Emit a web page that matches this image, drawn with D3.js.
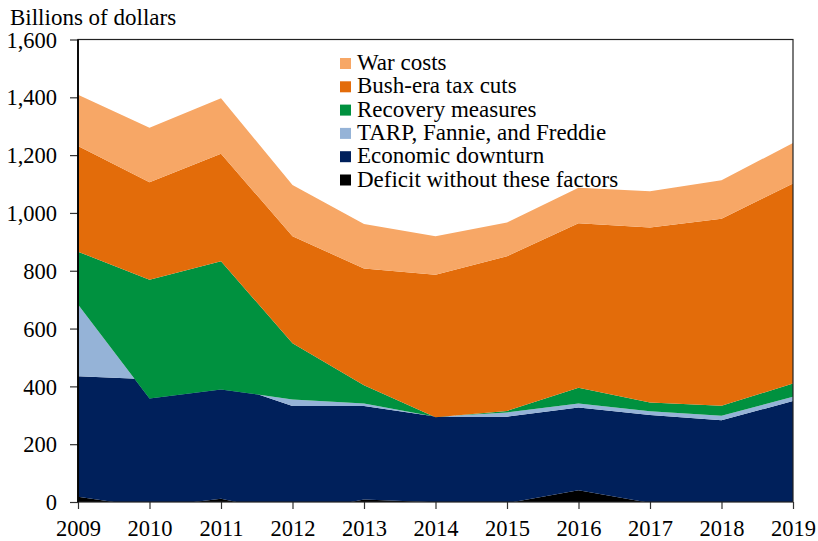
<!DOCTYPE html>
<html>
<head>
<meta charset="utf-8">
<script src="https://cdn.jsdelivr.net/npm/d3@7"></script>
<style>
  body { margin: 0; background: #fff; }
</style>
</head>
<body>
<div id="chart"></div>
<script>
// deficit components, billions of dollars
const years = [2009, 2010, 2011, 2012, 2013, 2014, 2015, 2016, 2017, 2018, 2019]
const baseDeficit = [18, -18, 11, -40, 9, -1, -4, 41, -3, -2, -2]
const downturn = [417, 443, 405, 372, 323, 297, 299, 286, 304, 285, 351]
const tarp = [248, -67, -27, 23, 9, -1, 15, 14, 13, 15, 15]
const recovery = [183, 411, 444, 194, 63, -2, 5, 54, 30, 35, 46]
const taxCuts = [366, 337, 372, 370, 404, 493, 535, 569, 606, 647, 692]
const warCosts = [177, 189, 192, 178, 154, 133, 117, 123, 125, 133, 140]
const yTicks = [0, 200, 400, 600, 800, 1000, 1200, 1400, 1600]

const seriesKeys = ["base", "downturn", "tarp", "recovery", "tax", "war"]
const seriesColors = {
    base: "#000000",
    downturn: "#00205b",
    tarp: "#95b3d7",
    recovery: "#00913f",
    tax: "#e36c0a",
    war: "#f7a766"
}
// legend goes top to bottom
const legendItems = [
    ["war", "War costs"],
    ["tax", "Bush-era tax cuts"],
    ["recovery", "Recovery measures"],
    ["tarp", "TARP, Fannie, and Freddie"],
    ["downturn", "Economic downturn"],
    ["base", "Deficit without these factors"]
]

const FONT = "'Liberation Serif'"

function renderChart(frame_id) {
    let width = 818
    let height = 541
    let left = 78, right = 793, top = 39.5, bottom = 502

    let rows = years.map((yr, i) => ({
        year: yr,
        base: baseDeficit[i],
        downturn: downturn[i],
        tarp: tarp[i],
        recovery: recovery[i],
        tax: taxCuts[i],
        war: warCosts[i]
    }))

    var svg = d3.select("#" + frame_id)
        .append("svg")
        .attr("width", width)
        .attr("height", height)

    var x = d3.scaleLinear().domain([2009, 2019]).range([left, right])
    var y = d3.scaleLinear().domain([0, 1600]).range([bottom, top])

    // plain cumulative stacking, negatives included (like the spreadsheet does)
    var stacked = d3.stack().keys(seriesKeys).offset(d3.stackOffsetNone)(rows)

    svg.append("clipPath").attr("id", "plot-clip")
        .append("rect")
        .attr("x", left).attr("y", top)
        .attr("width", right - left).attr("height", bottom - top)

    var area = d3.area()
        .x(d => x(d.data.year))
        .y0(d => y(d[0]))
        .y1(d => y(d[1]))

    svg.append("g")
        .attr("clip-path", "url(#plot-clip)")
        .selectAll("path")
        .data(stacked)
        .enter()
        .append("path")
        .attr("d", area)
        .attr("fill", d => seriesColors[d.key])

    // y axis
    var yAxis = svg.append("g")
        .attr("transform", "translate(" + left + ",0)")
        .call(d3.axisLeft(y).tickValues(yTicks).tickSize(8).tickPadding(13)
            .tickFormat(d3.format(",")))
    yAxis.select(".domain").remove()
    yAxis.selectAll(".tick line").attr("stroke", "#333").attr("stroke-width", 1.2)
    yAxis.selectAll("text")
        .style("font-family", FONT)
        .style("font-size", "22.5px")
        .attr("fill", "#000")
        .attr("dy", "0.34em")

    // x axis
    var xAxis = svg.append("g")
        .attr("transform", "translate(0," + bottom + ")")
        .call(d3.axisBottom(x).tickValues(years).tickSize(7).tickPadding(11)
            .tickFormat(d3.format("d")))
    xAxis.select(".domain").remove()
    xAxis.selectAll(".tick line").attr("stroke", "#333").attr("stroke-width", 1.2)
    xAxis.selectAll("text")
        .style("font-family", FONT)
        .style("font-size", "22.5px")
        .attr("fill", "#000")

    // frame around the plot
    svg.append("rect")
        .attr("x", left).attr("y", top)
        .attr("width", right - left).attr("height", bottom - top)
        .attr("fill", "none")
        .attr("stroke", "#222")
        .attr("stroke-width", 1.2)
    svg.append("line")
        .attr("x1", left).attr("x2", left)
        .attr("y1", top).attr("y2", bottom)
        .attr("stroke", "#000").attr("stroke-width", 1.8)

    svg.append("text")
        .attr("x", 10).attr("y", 25)
        .style("font-family", FONT)
        .style("font-size", "23px")
        .text("Billions of dollars")

    // legend
    var legend = svg.append("g").attr("transform", "translate(340,70)")
    var item = legend.selectAll("g")
        .data(legendItems)
        .enter()
        .append("g")
        .attr("transform", (d, i) => "translate(0," + i * 23.3 + ")")
    item.append("rect")
        .attr("x", 0).attr("y", -12)
        .attr("width", 11).attr("height", 11)
        .attr("fill", d => seriesColors[d[0]])
    item.append("text")
        .attr("x", 17).attr("y", 0)
        .style("font-family", FONT)
        .style("font-size", "23px")
        .text(d => d[1])
}

renderChart("chart")
</script>
</body>
</html>
